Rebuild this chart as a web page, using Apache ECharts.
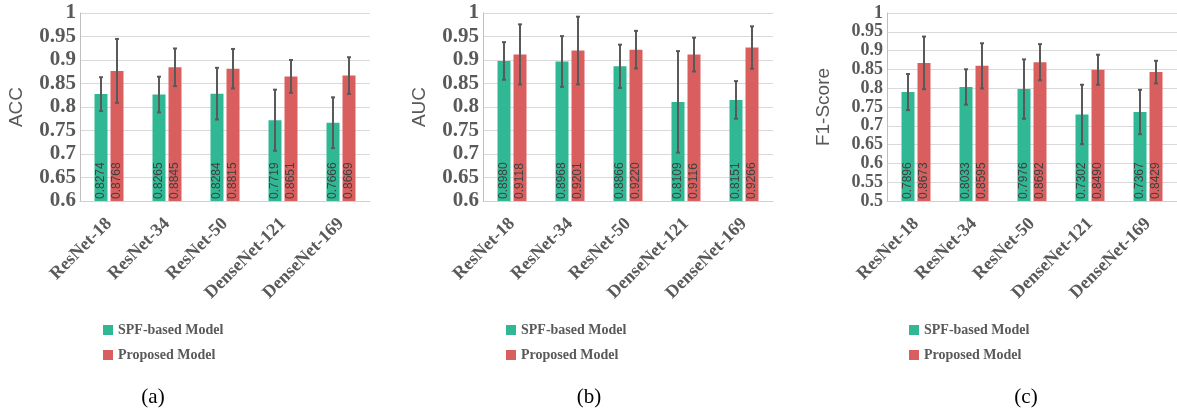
<!DOCTYPE html>
<html>
<head>
<meta charset="utf-8">
<script src="https://cdn.jsdelivr.net/npm/echarts@6/dist/echarts.min.js"></script>
<style>
  html, body { margin: 0; padding: 0; background: #fff; }
  #chart { width: 1177px; height: 413px; }
</style>
</head>
<body>
<div id="chart"></div>
<script>
const models = ["ResNet-18", "ResNet-34", "ResNet-50", "DenseNet-121", "DenseNet-169"];

const accSpf = [0.8274, 0.8265, 0.8284, 0.7719, 0.7666];
const accProp = [0.8768, 0.8845, 0.8815, 0.8651, 0.8669];
const accSpfErr = [0.036, 0.038, 0.055, 0.065, 0.054];
const accPropErr = [0.068, 0.040, 0.042, 0.035, 0.039];

const aucSpf = [0.8980, 0.8968, 0.8866, 0.8109, 0.8151];
const aucProp = [0.9118, 0.9201, 0.9220, 0.9116, 0.9266];
const aucSpfErr = [0.040, 0.054, 0.046, 0.108, 0.040];
const aucPropErr = [0.064, 0.072, 0.040, 0.036, 0.045];

const f1Spf = [0.7896, 0.8033, 0.7976, 0.7302, 0.7367];
const f1Prop = [0.8673, 0.8595, 0.8692, 0.8490, 0.8429];
const f1SpfErr = [0.048, 0.047, 0.079, 0.079, 0.059];
const f1PropErr = [0.070, 0.060, 0.048, 0.040, 0.030];

const yMins = [0.6, 0.6, 0.5];
const yLabelSizes = [21, 21, 18];
const yNames = ["ACC", "AUC", "F1-Score"];
const captions = ["(a)", "(b)", "(c)"];
const seriesNames = ["SPF-based Model", "Proposed Model"];

const green = "#30b894";
const red = "#d95f5f";
const grey = "#595959";
const serif = "Liberation Serif";
const barW = 13, gapPx = 3;
const shift = (barW + gapPx) / 2;

const panels = [
  { left: 80, legendLeft: 98, capX: 153, spf: accSpf, prop: accProp, spfErr: accSpfErr, propErr: accPropErr },
  { left: 483, legendLeft: 501, capX: 589, spf: aucSpf, prop: aucProp, spfErr: aucSpfErr, propErr: aucPropErr },
  { left: 887, legendLeft: 904, capX: 1026, spf: f1Spf, prop: f1Prop, spfErr: f1SpfErr, propErr: f1PropErr }
];

function errorBars(gi, means, errs, dx) {
  return {
    type: "custom",
    xAxisIndex: gi,
    yAxisIndex: gi,
    silent: true,
    clip: false,
    z: 10,
    data: means.map((m, i) => [i, m - errs[i], m + errs[i]]),
    renderItem(params, api) {
      const lo = api.coord([api.value(0), api.value(1)]);
      const hi = api.coord([api.value(0), api.value(2)]);
      const x = lo[0] + dx;
      const c = 2;
      const st = { stroke: grey, lineWidth: 2 };
      return {
        type: "group",
        children: [
          { type: "line", shape: { x1: x, y1: lo[1], x2: x, y2: hi[1] }, style: st },
          { type: "line", shape: { x1: x - c, y1: lo[1], x2: x + c, y2: lo[1] }, style: st },
          { type: "line", shape: { x1: x - c, y1: hi[1], x2: x + c, y2: hi[1] }, style: st }
        ]
      };
    }
  };
}

function barSeries(gi, name, values, color) {
  return {
    type: "bar",
    name: name,
    xAxisIndex: gi,
    yAxisIndex: gi,
    barWidth: barW,
    barGap: (gapPx / barW * 100) + "%",
    itemStyle: { color: color },
    label: {
      show: true,
      position: "insideBottom",
      rotate: 90,
      align: "left",
      verticalAlign: "middle",
      distance: 2,
      fontFamily: "Liberation Sans",
      fontSize: 12,
      color: "#404040",
      formatter: p => p.value.toFixed(4)
    },
    data: values
  };
}

const grid = [], xAxis = [], yAxis = [], legend = [], series = [], graphic = [];
panels.forEach((p, gi) => {
  grid.push({ left: p.left, top: 13, width: 290, height: 188 });
  xAxis.push({
    type: "category",
    gridIndex: gi,
    data: models,
    axisLine: { lineStyle: { color: "#d0d0d0" } },
    axisTick: { show: false },
    axisLabel: {
      interval: 0,
      rotate: 45,
      margin: 20,
      fontFamily: serif,
      fontWeight: "bold",
      fontSize: 18,
      color: grey
    }
  });
  yAxis.push({
    type: "value",
    gridIndex: gi,
    min: yMins[gi],
    max: 1,
    interval: 0.05,
    name: yNames[gi],
    nameLocation: "middle",
    nameGap: 54,
    nameTextStyle: { fontFamily: "Liberation Sans", fontSize: 19, color: grey },
    axisLine: { show: true, lineStyle: { color: "#bfbfbf" } },
    axisTick: { show: false },
    splitLine: { lineStyle: { color: "#d9d9d9" } },
    axisLabel: {
      showMinLabel: true,
      showMaxLabel: true,
      margin: 4,
      fontFamily: serif,
      fontWeight: "bold",
      fontSize: yLabelSizes[gi],
      color: grey
    }
  });
  legend.push({
    data: seriesNames,
    orient: "vertical",
    left: p.legendLeft,
    top: 318,
    icon: "rect",
    itemWidth: 10,
    itemHeight: 10,
    itemGap: 11,
    textStyle: { fontFamily: serif, fontWeight: "bold", fontSize: 14, color: grey }
  });
  series.push(barSeries(gi, seriesNames[0], p.spf, green));
  series.push(barSeries(gi, seriesNames[1], p.prop, red));
  series.push(errorBars(gi, p.spf, p.spfErr, -shift));
  series.push(errorBars(gi, p.prop, p.propErr, shift));
  graphic.push({
    type: "text",
    x: p.capX,
    y: 397,
    style: {
      text: captions[gi],
      fontFamily: serif,
      fontSize: 21,
      fill: "#000",
      textAlign: "center",
      textVerticalAlign: "middle"
    }
  });
});

const chart = echarts.init(document.getElementById("chart"));
chart.setOption({
  animation: false,
  grid: grid,
  xAxis: xAxis,
  yAxis: yAxis,
  legend: legend,
  series: series,
  graphic: graphic
});
window.addEventListener("resize", () => chart.resize());
</script>
</body>
</html>
